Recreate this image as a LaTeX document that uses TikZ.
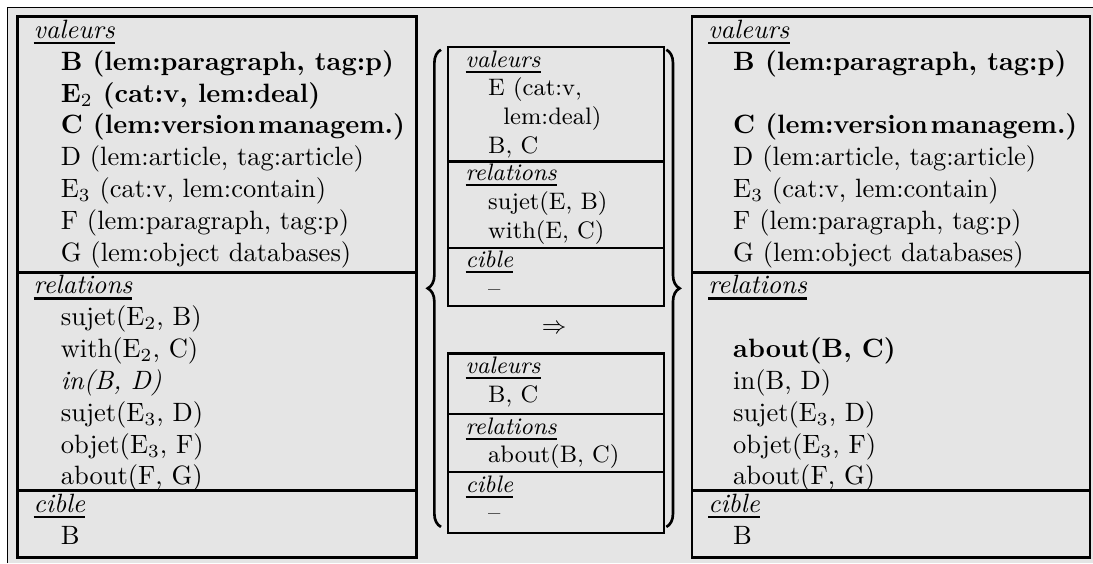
\documentclass[tikz,border=0pt]{standalone}
\usetikzlibrary{decorations.pathreplacing}

\newcommand{\rubrique}[1]{\setbox0=\hbox{\textit{#1}}\rlap{\rule[-2.1pt]{\wd0}{0.8pt}}\box0}

\begin{document}
\begin{tikzpicture}[
    txt/.style={anchor=base west, inner sep=0pt},
    petit/.style={txt, font=\small},
    cadre/.style={line width=1.1pt},
    boite/.style={line width=0.9pt}
]
    \useasboundingbox (0,0) rectangle (14.50,7.47);
    \fill[black!10] (0.10,0) rectangle (14.50,7.37);
    \draw[line width=0.5pt] (0.10,0) -- (0.10,7.37) -- (14.50,7.37);

    % graphe de gauche
    \draw[cadre] (0.23,0.08) rectangle (5.52,7.25);
    \draw[cadre] (0.23,3.86) -- (5.52,3.86);
    \draw[cadre] (0.23,0.96) -- (5.52,0.96);

    \node[txt] (lvh) at (0.44,6.96) {\rubrique{valeurs}};
    \foreach \k/\t in {
        1/{\textbf{B (lem:paragraph, tag:p)}},
        2/{\textbf{E$_2$ (cat:v, lem:deal)}},
        3/{\textbf{C (lem:version\hspace{1pt}managem.)}},
        4/{D (lem:article, tag:article)},
        5/{E$_3$ (cat:v, lem:contain)},
        6/{F (lem:paragraph, tag:p)},
        7/{G (lem:object databases)}
    } {
        \node[txt] (lv\k) at (0.80,6.96-0.422*\k) {\t};
    }
    \node[txt] (lrh) at (0.44,3.57) {\rubrique{relations}};
    \foreach \k/\t in {
        1/{sujet(E$_2$, B)},
        2/{with(E$_2$, C)},
        3/{\textit{in(B, D)}},
        4/{sujet(E$_3$, D)},
        5/{objet(E$_3$, F)},
        6/{about(F, G)}
    } {
        \node[txt] (lr\k) at (0.80,3.57-0.422*\k) {\t};
    }
    \node[txt] (lch) at (0.44,0.67) {\rubrique{cible}};
    \node[txt] (lc1) at (0.80,0.25) {B};

    % regle au milieu
    \draw[boite] (5.94,3.41) rectangle (8.81,6.85);
    \draw[boite] (5.94,5.33) -- (8.81,5.33);
    \draw[boite] (5.94,4.18) -- (8.81,4.18);
    \node[petit] (hvh) at (6.17,6.58) {\rubrique{valeurs}};
    \node[petit] (hv1) at (6.47,6.20) {E (cat:v,};
    \node[petit] (hv2) at (6.67,5.82) {lem:deal)};
    \node[petit] (hv3) at (6.47,5.44) {B, C};
    \node[petit] (hrh) at (6.17,5.07) {\rubrique{relations}};
    \node[petit] (hr1) at (6.47,4.69) {sujet(E, B)};
    \node[petit] (hr2) at (6.47,4.31) {with(E, C)};
    \node[petit] (hch) at (6.17,3.92) {\rubrique{cible}};
    \node[petit] (hc1) at (6.47,3.54) {--};

    \node[font=\small] (fleche) at (7.35,3.11) {$\Rightarrow$};

    \draw[boite] (5.94,0.40) rectangle (8.81,2.78);
    \draw[boite] (5.94,1.98) -- (8.81,1.98);
    \draw[boite] (5.94,1.21) -- (8.81,1.21);
    \node[petit] (bvh) at (6.17,2.51) {\rubrique{valeurs}};
    \node[petit] (bv1) at (6.47,2.13) {B, C};
    \node[petit] (brh) at (6.17,1.71) {\rubrique{relations}};
    \node[petit] (br1) at (6.47,1.33) {about(B, C)};
    \node[petit] (bch) at (6.17,0.94) {\rubrique{cible}};
    \node[petit] (bc1) at (6.47,0.56) {--};

    \draw[line width=1pt, decorate, decoration={brace, amplitude=5pt}]
        (5.85,0.48) -- (5.85,6.81);
    \draw[line width=1pt, decorate, decoration={brace, amplitude=5pt}]
        (8.84,6.81) -- (8.84,0.48);

    % graphe de droite
    \draw[cadre] (9.18,0.08) rectangle (14.46,7.25);
    \draw[cadre] (9.18,3.86) -- (14.46,3.86);
    \draw[cadre] (9.18,0.96) -- (14.46,0.96);

    \node[txt] (rvh) at (9.39,6.96) {\rubrique{valeurs}};
    \foreach \k/\t in {
        1/{\textbf{B (lem:paragraph, tag:p)}},
        3/{\textbf{C (lem:version\hspace{1pt}managem.)}},
        4/{D (lem:article, tag:article)},
        5/{E$_3$ (cat:v, lem:contain)},
        6/{F (lem:paragraph, tag:p)},
        7/{G (lem:object databases)}
    } {
        \node[txt] (rv\k) at (9.72,6.96-0.422*\k) {\t};
    }
    \node[txt] (rrh) at (9.39,3.57) {\rubrique{relations}};
    \foreach \k/\t in {
        2/{\textbf{about(B, C)}},
        3/{in(B, D)},
        4/{sujet(E$_3$, D)},
        5/{objet(E$_3$, F)},
        6/{about(F, G)}
    } {
        \node[txt] (rr\k) at (9.72,3.57-0.422*\k) {\t};
    }
    \node[txt] (rch) at (9.39,0.67) {\rubrique{cible}};
    \node[txt] (rc1) at (9.72,0.25) {B};
\end{tikzpicture}
\end{document}
